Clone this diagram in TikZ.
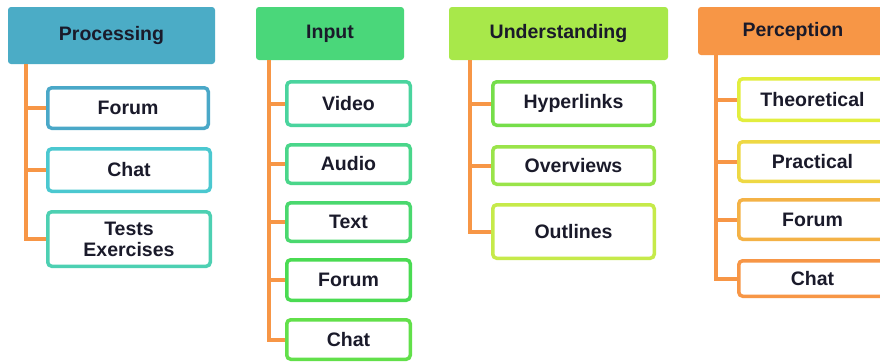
\documentclass[tikz,border=0pt]{standalone}
\usepackage{fontspec}
\setmainfont{Liberation Sans}
\definecolor{txt}{HTML}{1A1A2A}
\definecolor{conn}{HTML}{F79646}
\definecolor{hProc}{HTML}{4BACC6}
\definecolor{hInp}{HTML}{4AD77A}
\definecolor{hUnd}{HTML}{A8E84A}
\definecolor{hPer}{HTML}{F79646}
\definecolor{cA}{HTML}{4AA8C8}
\definecolor{cB}{HTML}{4BC8D0}
\definecolor{cC}{HTML}{4DD0B2}
\definecolor{iA}{HTML}{4AD49E}
\definecolor{iB}{HTML}{4AD68A}
\definecolor{iC}{HTML}{4AD86E}
\definecolor{iD}{HTML}{4ADB52}
\definecolor{iE}{HTML}{62E04A}
\definecolor{uA}{HTML}{76DE4A}
\definecolor{uB}{HTML}{9AE44A}
\definecolor{uC}{HTML}{C6EA4A}
\definecolor{pA}{HTML}{E2EE3E}
\definecolor{pB}{HTML}{EED844}
\definecolor{pC}{HTML}{F4B246}
\definecolor{pD}{HTML}{F79646}
\tikzset{
  label font/.style={font=\fontsize{19.5}{21}\selectfont\bfseries, text=txt, align=center},
  header/.style={label font, rounded corners=3pt, inner sep=0pt},
  itembox/.style={label font, draw=#1, fill=white, line width=3.5pt,
    rounded corners=4pt, inner sep=0pt},
  branch/.style={draw=conn, line width=4pt},
}
\newcommand{\hdr}[6]{% name, cx, cy, w, h, colour
  \node[header, fill=#6, minimum width=#4pt, minimum height=#5pt] (#1) at (#2,#3)}
\newcommand{\itm}[6]{% name, cx, cy, w, h, colour
  \node[itembox=#6, minimum width=#4pt, minimum height=#5pt] (#1) at (#2,#3)}
\begin{document}
\begin{tikzpicture}[x=1pt, y=-1pt]
\clip (0,0) rectangle (880,362);
\fill[white] (0,0) rectangle (880,362);

% column headers
\hdr{hP}{111.5}{35.5}{207}{57}{hProc} {Processing};
\hdr{hI}{330}{33.5}{148}{53}{hInp} {Input};
\hdr{hU}{558.5}{33.5}{219}{53}{hUnd} {Understanding};
\hdr{hR}{793}{31}{190}{48}{hPer} {Perception};

% Processing
\itm{p1}{128}{108}{160.5}{40.5}{cA} {Forum};
\itm{p2}{129}{170}{162.5}{42.5}{cB} {Chat};
\itm{p3}{129}{239}{162.5}{54.5}{cC} {Tests\\Exercises};

% Input
\itm{i1}{348.5}{103.5}{123.5}{43.5}{iA} {Video};
\itm{i2}{348.5}{164}{123.5}{38.5}{iB} {Audio};
\itm{i3}{348.5}{222}{123.5}{38.5}{iC} {Text};
\itm{i4}{348.5}{280}{123.5}{40.5}{iD} {Forum};
\itm{i5}{348.5}{339.5}{123.5}{39.5}{iE} {Chat};

% Understanding
\itm{u1}{573.5}{103.5}{161.5}{43.5}{uA} {Hyperlinks};
\itm{u2}{573.5}{165.5}{161.5}{37.5}{uB} {Overviews};
\itm{u3}{573.5}{231.5}{161.5}{53.5}{uC} {Outlines};

% Perception
\itm{r1}{812.5}{99.5}{147.5}{41.5}{pA} {Theoretical};
\itm{r2}{812.5}{161.5}{147.5}{39.5}{pB} {Practical};
\itm{r3}{812.5}{219.5}{147.5}{39.5}{pC} {Forum};
\itm{r4}{812.5}{278.5}{147.5}{35.5}{pD} {Chat};

% connector spines start just below each header
\coordinate (sP) at (26,64);
\coordinate (sI) at (269,60);
\coordinate (sU) at (470,60);
\coordinate (sR) at (716,55);

\path[branch] (sP) |- (p3.west);
\foreach \n in {p1,p2} \path[branch] (sP |- \n.west) -- (\n.west);

\path[branch] (sI) |- (i5.west);
\foreach \n in {i1,i2,i3,i4} \path[branch] (sI |- \n.west) -- (\n.west);

\path[branch] (sU) |- (u3.west);
\foreach \n in {u1,u2} \path[branch] (sU |- \n.west) -- (\n.west);

\path[branch] (sR) |- (r4.west);
\foreach \n in {r1,r2,r3} \path[branch] (sR |- \n.west) -- (\n.west);
\end{tikzpicture}
\end{document}
